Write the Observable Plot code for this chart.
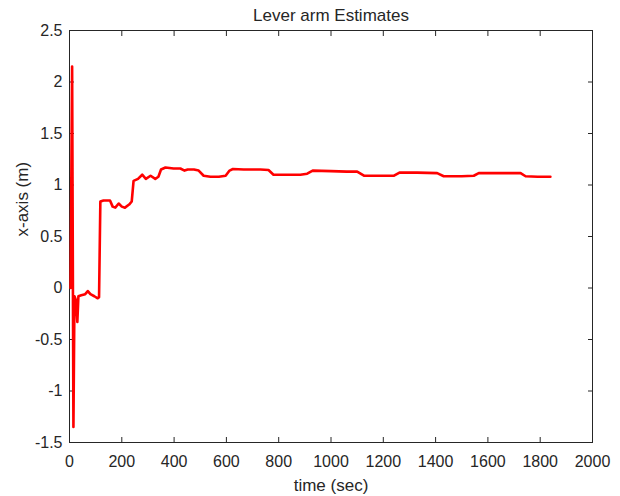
<!DOCTYPE html>
<html>
<head>
<meta charset="utf-8">
<script src="https://cdn.jsdelivr.net/npm/d3@7"></script>
<script src="https://cdn.jsdelivr.net/npm/@observablehq/plot@0.6"></script>
<style>
  html, body { margin: 0; padding: 0; background: #fff; }
  #chart svg { display: block; }
</style>
</head>
<body>
<div id="chart"></div>
<script>
const titleText = "Lever arm Estimates";
const xLabel = "time (sec)";
const yLabel = "x-axis (m)";

const time = [4, 10, 15, 19, 25, 30, 34, 45, 60, 70, 80, 95, 108, 113, 118, 130, 155, 165, 175, 188, 200, 212, 228, 238, 245, 262, 278, 292, 310, 328, 340, 350, 367, 398, 424, 440, 452, 476, 494, 513, 539, 571, 597, 612, 625, 666, 730, 761, 780, 818, 883, 909, 930, 1000, 1060, 1100, 1126, 1180, 1241, 1262, 1330, 1406, 1431, 1500, 1546, 1565, 1640, 1725, 1744, 1790, 1839];
const leverX = [0.0, 2.15, -1.35, -0.08, -0.12, -0.33, -0.08, -0.07, -0.06, -0.03, -0.06, -0.08, -0.10, -0.09, 0.84, 0.85, 0.85, 0.79, 0.78, 0.82, 0.79, 0.78, 0.81, 0.84, 1.04, 1.06, 1.10, 1.06, 1.09, 1.06, 1.08, 1.15, 1.17, 1.16, 1.16, 1.14, 1.15, 1.15, 1.14, 1.09, 1.08, 1.08, 1.09, 1.14, 1.155, 1.15, 1.15, 1.145, 1.10, 1.10, 1.10, 1.11, 1.14, 1.135, 1.13, 1.13, 1.09, 1.09, 1.09, 1.12, 1.12, 1.115, 1.085, 1.085, 1.09, 1.115, 1.115, 1.115, 1.085, 1.08, 1.08];

const xTicks = [0, 200, 400, 600, 800, 1000, 1200, 1400, 1600, 1800, 2000];
const yTicks = [-1.5, -1, -0.5, 0, 0.5, 1, 1.5, 2, 2.5];

const data = time.map((t, i) => ({t, v: leverX[i]}));
const ink = "#262626";
const fmt = d => String(d);

const chart = Plot.plot({
  width: 620,
  height: 496,
  marginLeft: 69,
  marginRight: 28,
  marginTop: 30,
  marginBottom: 54,
  style: {fontFamily: "'Liberation Sans', Arial, sans-serif", fontSize: "16px", color: ink, background: "#fff"},
  x: {domain: [0, 2000]},
  y: {domain: [-1.5, 2.5]},
  marks: [
    Plot.frame({stroke: ink, strokeWidth: 1}),
    Plot.axisX({anchor: "bottom", ticks: xTicks, tickSize: -5, tickPadding: 18, tickFormat: fmt, label: null, stroke: ink, fill: ink, fontSize: 16}),
    Plot.axisX({anchor: "top", ticks: xTicks, tickSize: -5, tickFormat: () => "", label: null, stroke: ink}),
    Plot.axisY({anchor: "left", ticks: yTicks, tickSize: -5, tickPadding: 12, tickFormat: fmt, label: null, stroke: ink, fill: ink, fontSize: 16}),
    Plot.axisY({anchor: "right", ticks: yTicks, tickSize: -5, tickFormat: () => "", label: null, stroke: ink}),
    Plot.line(data, {x: "t", y: "v", stroke: "#ff0000", strokeWidth: 2.6, strokeLinejoin: "round", curve: "linear"}),
    Plot.text([titleText], {frameAnchor: "top", dy: -14.7, lineAnchor: "middle", fontSize: 17, fill: ink}),
    Plot.text([xLabel], {frameAnchor: "bottom", dy: 43, lineAnchor: "middle", fontSize: 17, fill: ink}),
    Plot.text([yLabel], {frameAnchor: "left", dx: -47, rotate: -90, lineAnchor: "middle", fontSize: 17, fill: ink})
  ]
});
document.getElementById("chart").appendChild(chart);
</script>
</body>
</html>
